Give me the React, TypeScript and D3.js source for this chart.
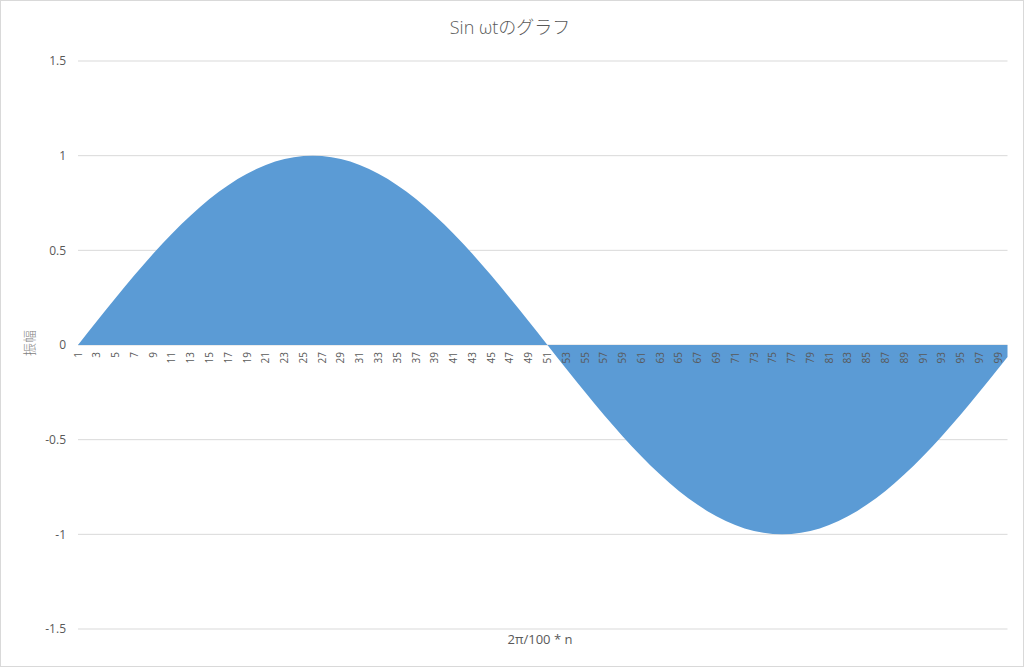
import React from "react";
import * as d3 from "d3";

const categories: number[] = Array.from({ length: 100 }, (_, i) => i + 1);
const values: number[] = [
  0, 0.0628, 0.1253, 0.1874, 0.2487, 0.309, 0.3681, 0.4258, 0.4818, 0.5358,
  0.5878, 0.6374, 0.6845, 0.729, 0.7705, 0.809, 0.8443, 0.8763, 0.9048, 0.9298,
  0.9511, 0.9686, 0.9823, 0.9921, 0.998, 1, 0.998, 0.9921, 0.9823, 0.9686,
  0.9511, 0.9298, 0.9048, 0.8763, 0.8443, 0.809, 0.7705, 0.729, 0.6845, 0.6374,
  0.5878, 0.5358, 0.4818, 0.4258, 0.3681, 0.309, 0.2487, 0.1874, 0.1253, 0.0628,
  0, -0.0628, -0.1253, -0.1874, -0.2487, -0.309, -0.3681, -0.4258, -0.4818, -0.5358,
  -0.5878, -0.6374, -0.6845, -0.729, -0.7705, -0.809, -0.8443, -0.8763, -0.9048, -0.9298,
  -0.9511, -0.9686, -0.9823, -0.9921, -0.998, -1, -0.998, -0.9921, -0.9823, -0.9686,
  -0.9511, -0.9298, -0.9048, -0.8763, -0.8443, -0.809, -0.7705, -0.729, -0.6845, -0.6374,
  -0.5878, -0.5358, -0.4818, -0.4258, -0.3681, -0.309, -0.2487, -0.1874, -0.1253, -0.0628,
];
const yTicks: number[] = [-1.5, -1, -0.5, 0, 0.5, 1, 1.5];
const title = "Sin ωtのグラフ";
const xTitle = "2π/100 * n";
const yTitle = "振幅";

export default function App() {
  const W = 1024;
  const H = 667;
  const left = 78;
  const right = 1007.5;
  const top = 61;
  const bottom = 629;
  const x = d3.scaleLinear().domain([1, 100]).range([left, right]);
  const y = d3.scaleLinear().domain([-1.5, 1.5]).range([bottom, top]);
  const area = d3
    .area<number>()
    .x((_, i) => x(categories[i]))
    .y0(y(0))
    .y1((d) => y(d));
  const font = "'Segoe UI', 'Open Sans', 'Noto Sans CJK JP', sans-serif";
  const gray = "#595959";
  return (
    <svg
      width={W}
      height={H}
      style={{ position: "fixed", left: 0, top: 0, background: "#fff" }}
      fontFamily={font}
    >
      <rect x={0.5} y={0.5} width={W - 1} height={H - 1} fill="#fff" stroke="#d9d9d9" />
      {yTicks.map((t) => (
        <g key={t}>
          <line x1={left} x2={right} y1={y(t)} y2={y(t)} stroke="#d9d9d9" strokeWidth={1} />
          <text x={66} y={y(t)} dy="0.35em" textAnchor="end" fontSize={12} fill={gray}>
            {t}
          </text>
        </g>
      ))}
      <path d={area(values) || ""} fill="#5b9bd5" />
      {categories
        .filter((c) => c % 2 === 1)
        .map((c) => (
          <text
            key={c}
            transform={`translate(${x(c)},352) rotate(-90)`}
            textAnchor="end"
            dy="0.35em"
            fontSize={10}
            fill={gray}
          >
            {c}
          </text>
        ))}
      <text x={510} y={34} textAnchor="middle" fontSize={18} fill={gray} fontWeight={300}>
        {title}
      </text>
      <text x={540} y={644} textAnchor="middle" fontSize={13} fill={gray}>
        {xTitle}
      </text>
      <text
        transform={`translate(29,${y(0) - 2}) rotate(-90)`}
        textAnchor="middle"
        dy="0.35em"
        fontSize={13}
        fill="#7f7f7f"
        fontFamily="'Noto Sans CJK JP', sans-serif"
        fontWeight={300}
      >
        {yTitle}
      </text>
    </svg>
  );
}
